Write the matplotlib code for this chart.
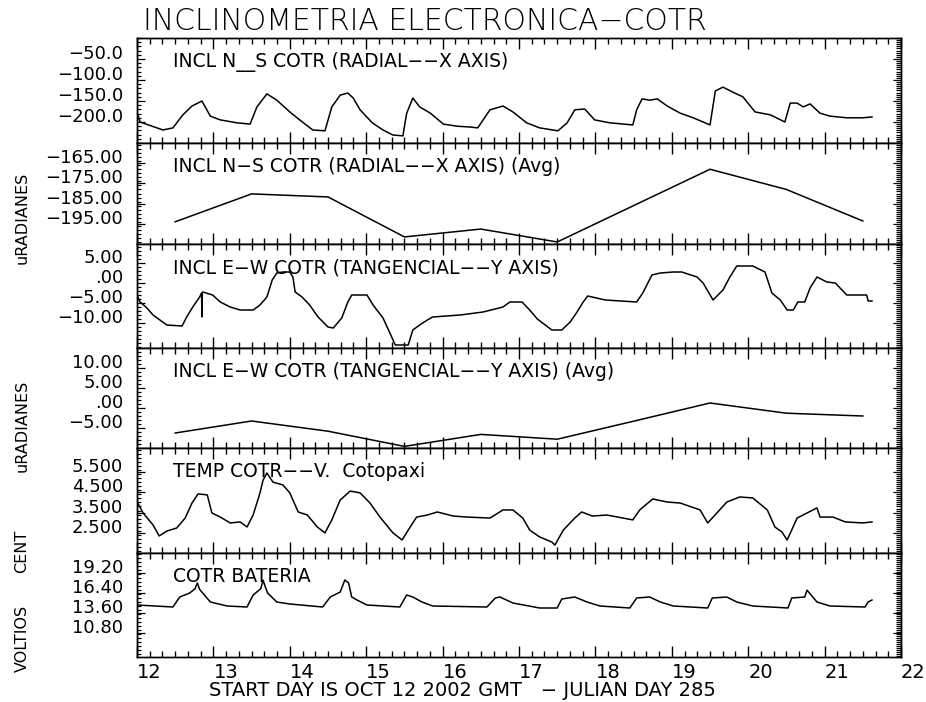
import matplotlib
matplotlib.use('Agg')
import matplotlib.pyplot as plt
from matplotlib.ticker import MultipleLocator, FuncFormatter

plt.rcParams['font.family'] = ['DejaVu Sans']

# ---------------- data (day of month, value) ----------------
ns_x = [12.00, 12.04, 12.34, 12.47, 12.60, 12.72, 12.85, 12.96, 13.09, 13.31, 13.48, 13.57,
        13.70, 13.83, 14.00, 14.13, 14.30, 14.46, 14.55, 14.66, 14.76, 14.83, 14.92, 15.08,
        15.22, 15.35, 15.48, 15.53, 15.61, 15.70, 15.84, 16.01, 16.19, 16.36, 16.46, 16.62,
        16.79, 16.92, 17.10, 17.27, 17.51, 17.63, 17.73, 17.86, 17.99, 18.19, 18.49, 18.54,
        18.61, 18.71, 18.81, 18.94, 19.11, 19.28, 19.50, 19.57, 19.67, 19.80, 19.93, 20.09,
        20.29, 20.48, 20.55, 20.64, 20.72, 20.81, 20.94, 21.07, 21.29, 21.50, 21.62]
ns_y = [-176, -200, -219, -214, -183, -162, -150, -186, -195, -202, -205, -164,
        -133, -148, -176, -195, -219, -221, -164, -136, -131, -143, -171, -202,
        -219, -231, -233, -179, -143, -164, -179, -205, -210, -212, -214, -171,
        -162, -176, -202, -214, -221, -202, -171, -169, -195, -202, -207, -171,
        -145, -148, -145, -162, -179, -190, -207, -126, -117, -129, -140, -176,
        -183, -200, -155, -155, -164, -157, -179, -186, -190, -190, -188]

ns_avg_x = [12.5, 13.5, 14.5, 15.5, 16.5, 17.5, 18.5, 19.5, 20.5, 21.5]
ns_avg_y = [-194.0, -180.2, -181.7, -201.5, -197.6, -204.0, -186.0, -168.0, -178.0, -193.6]

ew_x = [12.00, 12.04, 12.13, 12.21, 12.30, 12.39, 12.59, 12.65, 12.73, 12.82, 12.845, 12.85,
        12.855, 12.86, 12.99, 13.09, 13.22, 13.35, 13.52, 13.61, 13.70, 13.77, 13.83, 13.91,
        14.00, 14.04, 14.07, 14.16, 14.26, 14.37, 14.50, 14.57, 14.68, 14.76, 14.81, 15.01,
        15.09, 15.22, 15.31, 15.38, 15.55, 15.61, 15.70, 15.80, 15.87, 16.23, 16.53, 16.79,
        16.88, 17.04, 17.14, 17.24, 17.43, 17.56, 17.67, 17.76, 17.84, 17.90, 18.13, 18.54,
        18.62, 18.74, 18.85, 19.02, 19.13, 19.33, 19.41, 19.54, 19.67, 19.76, 19.85, 20.06,
        20.22, 20.31, 20.42, 20.51, 20.59, 20.65, 20.74, 20.81, 20.90, 21.03, 21.14, 21.29,
        21.55, 21.57, 21.62]
ew_y = [-3.0, -4.75, -6.25, -8.0, -9.25, -10.5, -10.75, -8.5, -6.0, -3.5, -2.5, -8.5,
        -2.5, -2.25, -3.0, -4.75, -6.0, -6.75, -6.75, -5.5, -3.5, 0.75, 2.5, 2.75,
        2.75, 1.5, -2.25, -3.5, -5.5, -8.5, -11.0, -11.25, -8.75, -4.75, -3.0, -3.0,
        -5.5, -8.75, -12.5, -15.5, -15.5, -11.75, -10.5, -9.25, -8.5, -8.0, -7.25, -6.0,
        -4.75, -4.75, -6.75, -9.0, -11.75, -11.75, -9.75, -7.25, -4.75, -3.25, -4.25, -4.75,
        -2.5, 2.0, 2.5, 2.75, 2.75, 1.5, 0.0, -4.25, -1.75, 1.5, 4.25, 4.25,
        2.75, -2.5, -4.25, -6.75, -6.75, -4.75, -4.75, -1.25, 1.5, 0.25, 0.0, -3.0,
        -3.0, -4.5, -4.5]

ew_avg_x = [12.5, 13.5, 14.5, 15.5, 16.5, 17.5, 18.5, 19.5, 20.5, 21.5]
ew_avg_y = [-6.25, -3.25, -5.8, -9.6, -6.6, -7.8, -3.3, 1.25, -1.3, -2.0]

temp_x = [12.00, 12.01, 12.08, 12.21, 12.29, 12.39, 12.52, 12.63, 12.72, 12.80, 12.92, 12.98,
          13.09, 13.22, 13.35, 13.44, 13.52, 13.61, 13.65, 13.70, 13.78, 13.91, 14.00, 14.11,
          14.23, 14.36, 14.46, 14.55, 14.66, 14.79, 14.92, 15.05, 15.18, 15.35, 15.47, 15.55,
          15.66, 15.80, 15.93, 16.14, 16.32, 16.62, 16.79, 16.92, 17.05, 17.14, 17.27, 17.43,
          17.47, 17.58, 17.73, 17.82, 17.96, 18.15, 18.49, 18.58, 18.75, 18.94, 19.11, 19.37,
          19.47, 19.59, 19.72, 19.89, 20.06, 20.25, 20.35, 20.44, 20.51, 20.64, 20.77, 20.90,
          20.94, 21.11, 21.27, 21.50, 21.62]
temp_y = [4.22, 3.97, 3.48, 2.89, 2.35, 2.59, 2.74, 3.23, 3.97, 4.42, 4.37, 3.48,
          3.28, 2.99, 3.04, 2.79, 3.38, 4.47, 5.10, 5.45, 5.00, 4.86, 4.47, 3.53,
          3.38, 2.79, 2.50, 3.14, 4.12, 4.56, 4.47, 3.97, 3.28, 2.50, 2.15, 2.64,
          3.28, 3.38, 3.53, 3.33, 3.28, 3.23, 3.63, 3.63, 3.23, 2.64, 2.30, 2.05,
          1.90, 2.64, 3.23, 3.53, 3.33, 3.38, 3.14, 3.63, 4.17, 4.02, 3.97, 3.63,
          2.99, 3.48, 4.02, 4.27, 4.22, 3.63, 2.79, 2.55, 2.15, 3.23, 3.48, 3.73,
          3.28, 3.28, 3.04, 2.99, 3.04]

bat_x = [12.00, 12.47, 12.56, 12.69, 12.76, 12.79, 12.82, 12.86, 12.96, 13.18, 13.44, 13.52,
         13.62, 13.65, 13.68, 13.71, 13.83, 14.00, 14.43, 14.53, 14.66, 14.72, 14.77, 14.81,
         14.88, 15.01, 15.44, 15.53, 15.61, 15.73, 15.87, 16.58, 16.69, 16.75, 16.92, 17.27,
         17.50, 17.56, 17.73, 17.89, 18.06, 18.45, 18.54, 18.71, 18.85, 19.02, 19.47, 19.53,
         19.72, 19.85, 20.06, 20.52, 20.57, 20.74, 20.77, 20.90, 21.07, 21.53, 21.57, 21.62]
bat_y = [14.72, 14.44, 15.84, 16.40, 17.00, 17.80, 16.90, 16.40, 15.14, 14.58, 14.44, 16.12,
         17.00, 18.20, 17.24, 16.40, 15.14, 14.86, 14.44, 15.84, 16.54, 18.22, 17.80, 15.84,
         15.42, 14.72, 14.44, 16.12, 15.84, 15.14, 14.58, 14.44, 15.70, 15.84, 15.00, 14.30,
         14.30, 15.56, 15.84, 15.14, 14.58, 14.30, 15.70, 15.84, 15.14, 14.58, 14.30, 15.70,
         15.84, 15.14, 14.58, 14.30, 15.70, 15.84, 16.80, 15.14, 14.58, 14.44, 15.14, 15.42]

# tick values and labels
ns_ticks = [-200, -150, -100, -50]
ns_ticklabels = ["\u2212200.0", "\u2212150.0", "\u2212100.0", "\u221250.0"]
ns_avg_ticks = [-195, -185, -175, -165]
ns_avg_ticklabels = ["\u2212195.00", "\u2212185.00", "\u2212175.00", "\u2212165.00"]
ew_ticks = [-10, -5, 0, 5]
ew_ticklabels = ["\u221210.00", "\u22125.00", ".00", "5.00"]
ew_avg_ticks = [-5, 0, 5, 10]
ew_avg_ticklabels = ["\u22125.00", ".00", "5.00", "10.00"]
temp_ticks = [2.5, 3.5, 4.5, 5.5]
temp_ticklabels = ["2.500", "3.500", "4.500", "5.500"]
bat_ticks = [10.8, 13.6, 16.4, 19.2]
bat_ticklabels = ["10.80", "13.60", "16.40", "19.20"]

titles = ["INCL N__S COTR (RADIAL\u2212\u2212X AXIS)",
          "INCL N\u2212S COTR (RADIAL\u2212\u2212X AXIS) (Avg)",
          "INCL E\u2212W COTR (TANGENCIAL\u2212\u2212Y AXIS)",
          "INCL E\u2212W COTR (TANGENCIAL\u2212\u2212Y AXIS) (Avg)",
          "TEMP COTR\u2212\u2212V.  Cotopaxi",
          "COTR BATERIA"]

# ---------------- layout ----------------
W, H = 926, 702
fig = plt.figure(figsize=(W / 100, H / 100), dpi=100)
fig.patch.set_facecolor('white')

left_px, right_px = 137, 901
panel_px = [(38, 143), (143, 244), (244, 348), (348, 448), (448, 553), (553, 657)]

panels = [
    (ns_x, ns_y, (-250, 0), ns_ticks, ns_ticklabels, 10, 5),
    (ns_avg_x, ns_avg_y, (-205, -155), ns_avg_ticks, ns_avg_ticklabels, 2, 1),
    (ew_x, ew_y, (-16.25, 9.75), ew_ticks, ew_ticklabels, 1, 0.5),
    (ew_avg_x, ew_avg_y, (-10, 15), ew_avg_ticks, ew_avg_ticklabels, 1, 0.5),
    (temp_x, temp_y, (1.51, 6.68), temp_ticks, temp_ticklabels, 0.2, 0.1),
    (bat_x, bat_y, (7.44, 22.0), bat_ticks, bat_ticklabels, 0.56, 0.28),
]

for i, ((x, y, ylim, ticks, tlabels, mnl, mnr), (t, b)) in enumerate(zip(panels, panel_px)):
    ax = fig.add_axes([left_px / W, 1 - b / H, (right_px - left_px) / W, (b - t) / H])
    ax.plot(x, y, color='black', lw=1.1)
    ax.set_xlim(12, 22)
    ax.set_ylim(*ylim)
    for s in ax.spines.values():
        s.set_linewidth(1.0)
    ax.xaxis.set_major_locator(MultipleLocator(1))
    ax.xaxis.set_minor_locator(MultipleLocator(1 / 6))
    ax.xaxis.set_major_formatter(FuncFormatter(lambda v, p: f"{int(round(v))}"))
    ax.tick_params(axis='x', which='both', direction='in', top=True, bottom=True,
                   labelbottom=(i == 5), width=1.0, labelsize=14, pad=4)
    ax.tick_params(axis='x', which='major', length=8)
    ax.tick_params(axis='x', which='minor', length=4.2)
    ax.set_yticks(ticks)
    ax.set_yticklabels(tlabels)
    ax.yaxis.set_minor_locator(MultipleLocator(mnl))
    ax.tick_params(axis='y', which='both', direction='in', left=True, right=False,
                   width=0.9, labelsize=13, pad=10)
    ax.tick_params(axis='y', which='major', length=5.5)
    ax.tick_params(axis='y', which='minor', length=3)
    for lab in ax.get_yticklabels():
        lab.set_verticalalignment('baseline')
    if i == 5:
        for lab in ax.get_xticklabels():
            lab.set_horizontalalignment('left')

    tw = ax.twinx()
    tw.set_ylim(*ylim)
    tw.set_yticks(ticks)
    tw.set_yticklabels([])
    tw.yaxis.set_minor_locator(MultipleLocator(mnr))
    tw.tick_params(axis='y', which='both', direction='in', right=True, left=False,
                   width=0.9, labelright=False)
    tw.tick_params(axis='y', which='major', length=6)
    tw.tick_params(axis='y', which='minor', length=3.5)
    for s in tw.spines.values():
        s.set_linewidth(1.0)

    ax.annotate(titles[i], xy=(12.47, 1), xycoords=('data', 'axes fraction'),
                xytext=(0, -17), textcoords='offset points', va='center', ha='left',
                fontsize=13.5)

fig.text(143 / W, 1 - 22 / H, "INCLINOMETRIA ELECTRONICA\u2212COTR", fontsize=21.5,
         ha='left', va='center', fontweight='light')
fig.text(462 / W, 1 - 690 / H, "START DAY IS OCT 12 2002 GMT   \u2212 JULIAN DAY 285",
         fontsize=14, ha='center', va='center')

for txt, yc in [("uRADIANES", 218), ("uRADIANES", 426), ("CENT", 551), ("VOLTIOS", 638)]:
    fig.text(22 / W, 1 - yc / H, txt, rotation=90, ha='center', va='center', fontsize=11.5)

fig.savefig('out.png', dpi=100, facecolor='white')
